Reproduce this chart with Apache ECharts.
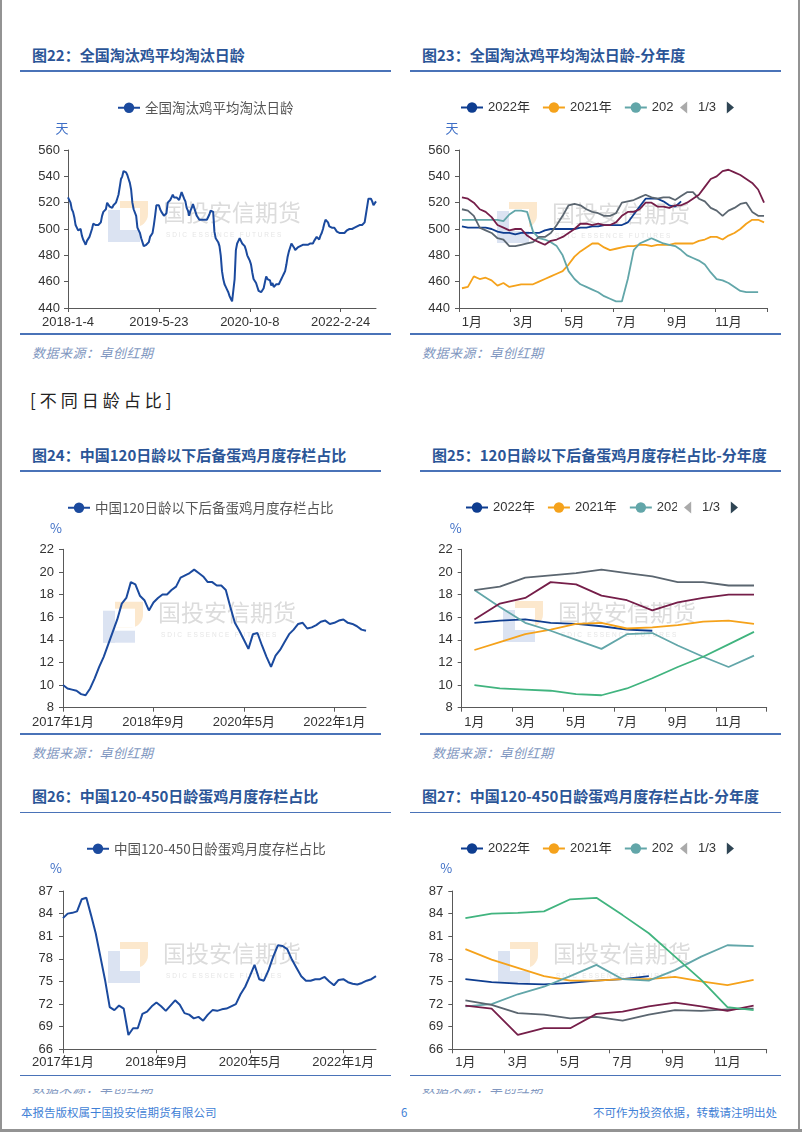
<!DOCTYPE html>
<html>
<head>
<meta charset="utf-8">
<script src="https://cdn.jsdelivr.net/npm/echarts@6/dist/echarts.min.js"></script>
<style>
html,body{margin:0;padding:0;background:#fff;}
body{width:802px;height:1133px;position:relative;overflow:hidden;font-family:"Noto Sans CJK SC",sans-serif;}
.t{position:absolute;font-weight:bold;font-size:15px;line-height:20px;color:#2b5597;white-space:nowrap;}
.ln{position:absolute;height:1.5px;background:#4a73b8;}
.src{position:absolute;font-style:italic;font-size:13px;line-height:18px;color:#8197c0;white-space:nowrap;letter-spacing:0.5px;}
.ch{position:absolute;}
.ft{position:absolute;font-size:11.5px;line-height:16px;color:#3f7fd6;white-space:nowrap;}
.bd{position:absolute;background:#939393;}
</style>
</head>
<body>
<div class="bd" style="left:0;top:0;width:2px;height:1131px"></div>
<div class="bd" style="left:798px;top:0;width:1.5px;height:1131px"></div>
<div class="bd" style="left:0;top:1129px;width:802px;height:3px"></div>

<div class="t" style="left:32px;top:45px">图22：全国淘汰鸡平均淘汰日龄</div>
<div class="t" style="left:422px;top:45px">图23：全国淘汰鸡平均淘汰日龄-分年度</div>
<div class="ln" style="left:20px;top:70px;width:371px"></div>
<div class="ln" style="left:410px;top:70px;width:371px"></div>
<div class="ln" style="left:20px;top:333px;width:371px"></div>
<div class="ln" style="left:410px;top:333px;width:371px"></div>
<div class="src" style="left:32px;top:344px">数据来源：卓创红期</div>
<div class="src" style="left:422px;top:344px">数据来源：卓创红期</div>

<div style="position:absolute;left:30px;top:388px;font-size:17px;line-height:24px;color:#222;letter-spacing:4px;white-space:nowrap">[不同日龄占比]</div>

<div class="t" style="left:32px;top:445px">图24：中国120日龄以下后备蛋鸡月度存栏占比</div>
<div class="t" style="left:432px;top:445px">图25：120日龄以下后备蛋鸡月度存栏占比-分年度</div>
<div class="ln" style="left:20px;top:470px;width:361px"></div>
<div class="ln" style="left:420px;top:470px;width:361px"></div>
<div class="ln" style="left:20px;top:733px;width:361px"></div>
<div class="ln" style="left:420px;top:733px;width:361px"></div>
<div class="src" style="left:32px;top:744px">数据来源：卓创红期</div>
<div class="src" style="left:432px;top:744px">数据来源：卓创红期</div>

<div class="t" style="left:32px;top:786px">图26：中国120-450日龄蛋鸡月度存栏占比</div>
<div class="t" style="left:422px;top:786px">图27：中国120-450日龄蛋鸡月度存栏占比-分年度</div>
<div class="ln" style="left:20px;top:811.5px;width:371px"></div>
<div class="ln" style="left:410px;top:811.5px;width:371px"></div>
<div class="ln" style="left:20px;top:1074.5px;width:371px"></div>
<div class="ln" style="left:410px;top:1074.5px;width:371px"></div>
<div style="position:absolute;left:32px;top:1089px;width:150px;height:5px;overflow:hidden"><div class="src" style="left:0;top:-10px">数据来源：卓创红期</div></div>
<div style="position:absolute;left:422px;top:1089px;width:150px;height:5px;overflow:hidden"><div class="src" style="left:0;top:-10px">数据来源：卓创红期</div></div>

<div class="ft" style="left:21px;top:1104px">本报告版权属于国投安信期货有限公司</div>
<div class="ft" style="left:401px;top:1104px">6</div>
<div class="ft" style="right:25px;top:1104px">不可作为投资依据，转载请注明出处</div>

<div id="c22" class="ch" style="left:0;top:90px;width:400px;height:250px"></div>
<div id="c23" class="ch" style="left:400px;top:90px;width:402px;height:250px"></div>
<div id="c24" class="ch" style="left:0;top:490px;width:400px;height:250px"></div>
<div id="c25" class="ch" style="left:400px;top:490px;width:402px;height:250px"></div>
<div id="c26" class="ch" style="left:0;top:830px;width:400px;height:250px"></div>
<div id="c27" class="ch" style="left:400px;top:830px;width:402px;height:250px"></div>

<script>
// ---------------- data ----------------
// weekly average culling age of laying hens (days), by year
const cullAge2018 = [524,523,520,515,513,509,503,501,499,500,500,495,492,490,488,491,492,494,497,500,504,504,503,504,503,503,505,510,513,513,515,520,520,517,517,516,518,518,520,523,526,532,538,540,544,545,543,541,538,535,530,520];
const cullAge2019 = [515,514,510,501,499,497,493,492,487,487,488,489,490,494,494,497,503,510,518,519,518,515,513,512,510,510,512,520,521,522,524,526,524,523,524,524,522,525,528,528,523,521,516,514,510,514,516,519,520,513,510,510];
const cullAge2020 = [507,507,507,507,507,507,507,506,511,514,514,513,498,493,492,490,487,480,468,462,458,456,454,452,449,447,445,445,462,484,489,491,493,491,489,488,487,484,480,478,476,473,467,462,461,459,456,453,452,452,452];
const cullAge2021 = [455,456,464,462,463,461,457,459,456,457,458,458,458,460,462,464,466,468,473,479,483,486,489,489,486,484,485,486,487,487,488,488,487,488,488,488,489,489,489,489,491,492,494,494,492,495,497,500,504,507,507,505];
const cullAge2022 = [502,501,501,501,501,500,498,497,497,496,497,497,497,497,499,500,500,500,500,500,501,501,502,502,503,503,503,503,505,511,517,523,523,523,521,518,517,521];

// monthly share of hens under 120 days (%)
const under120_2017 = [10.0,9.7,9.6,9.5,9.2,9.1,9.7,10.6,11.6,12.5,13.6,14.7];
const under120_2018 = [15.8,17.2,17.7,19.1,18.9,17.9,17.5,16.6,17.3,17.7,18.0,18.0];
const under120_2019 = [18.4,18.7,19.5,19.7,19.9,20.2,19.9,19.6,19.1,19.1,18.8,18.8];
const under120_2020 = [18.4,16.9,15.5,14.8,14.0,13.2,14.5,14.6,13.5,12.5,11.6,12.6];
const under120_2021 = [13.1,13.8,14.5,14.9,15.4,15.5,15.0,15.1,15.3,15.6,15.7,15.4];
const under120_2022 = [15.5,15.7,15.8,15.5,15.4,15.2,14.9,14.8];

// monthly share of hens aged 120-450 days (%)
const age450_2017 = [83.4,84.0,84.1,84.3,85.9,86.1,83.8,81.4,78.3,75.2,71.6,71.2];
const age450_2018 = [71.8,71.4,67.9,68.8,68.8,70.7,71.0,71.7,72.2,71.7,71.1,71.8];
const age450_2019 = [72.5,71.9,70.8,70.6,70.1,70.3,69.8,70.6,71.2,71.1,71.3,71.4];
const age450_2020 = [71.7,72.0,73.3,74.3,75.7,77.2,75.3,75.1,76.5,78.3,79.8,79.7];
const age450_2021 = [79.3,77.9,76.8,75.7,75.1,75.1,75.3,75.3,75.6,75.0,74.5,75.2];
const age450_2022 = [75.3,74.9,74.7,74.6,74.8,75.1,75.3,75.7];

const monthLabels = ['1月','2月','3月','4月','5月','6月','7月','8月','9月','10月','11月','12月'];
const yearNames = ['2022年','2021年','2020年','2019年','2018年','2017年'];
const yearColors = ['#0e3d90','#f5a21b','#62a6a9','#5b6670','#751e49','#41b47f'];

// ---------------- derived ----------------
const cullAgeAll = [].concat(cullAge2018, cullAge2019, cullAge2020, cullAge2021, cullAge2022);
const weekDates = cullAgeAll.map(function(_, i){
  const d = new Date(Date.UTC(2018, 0, 4 + 7 * i));
  return d.getUTCFullYear() + '-' + (d.getUTCMonth() + 1) + '-' + d.getUTCDate();
});
const weekCats = []; for (let i = 1; i <= 52; i++) weekCats.push('W' + i);
const under120All = [].concat(under120_2017, under120_2018, under120_2019, under120_2020, under120_2021, under120_2022);
const age450All = [].concat(age450_2017, age450_2018, age450_2019, age450_2020, age450_2021, age450_2022);
const monthCatsAll = under120All.map(function(_, i){
  return (2017 + Math.floor(i / 12)) + '年' + (i % 12 + 1) + '月';
});

// ---------------- style helpers ----------------
const SANS = '"Liberation Sans", Arial, "Noto Sans CJK SC", sans-serif';
const CJK = '"Noto Sans CJK SC", sans-serif';
const AX = '#595959';
const LINE_BLUE = '#1b4a9e';

function watermark(tx, ty){
  return [
    {type:'rect', silent:true, z:-20, shape:{x:tx-43, y:ty-11, width:28, height:26, r:[0,0,13,0]}, style:{fill:'#fce8cd'}},
    {type:'rect', silent:true, z:-19, shape:{x:tx-43, y:ty-4, width:20, height:19}, style:{fill:'#ffffff'}},
    {type:'rect', silent:true, z:-18, shape:{x:tx-55, y:ty-2, width:12, height:32}, style:{fill:'#dbe3f2'}},
    {type:'rect', silent:true, z:-18, shape:{x:tx-55, y:ty+18, width:32, height:12}, style:{fill:'#dbe3f2'}},
    {type:'text', silent:true, z:-17, x:tx, y:ty, style:{text:'国投安信期货', fontSize:23, fontFamily:CJK, fill:'#dcdcdc', verticalAlign:'middle'}},
    {type:'text', silent:true, z:-17, x:tx+3, y:ty+23, style:{text:'S D I C   E S S E N C E   F U T U R E S', fontSize:6.5, fontFamily:SANS, fill:'#e6e6e6', verticalAlign:'middle'}}
  ];
}

function yAxisOf(min, max, interval, name, nameGap, shift, margin){
  return {
    type:'value', min:min, max:max, interval:interval,
    name:name, nameLocation:'end', nameGap:nameGap,
    nameTextStyle:{color:'#3d6ec6', fontSize:13, fontFamily:CJK, align:'center', padding:[0, shift*2, 0, 0]},
    axisLine:{show:true, lineStyle:{color:AX, width:1}},
    axisTick:{show:true, length:4, lineStyle:{color:AX}},
    axisLabel:{color:'#333', fontSize:13, fontFamily:SANS, margin:margin},
    splitLine:{show:false}
  };
}

function legendSingle(left, top){
  return {
    left:left, top:top, padding:0, itemWidth:22, itemHeight:13, itemGap:12,
    textStyle:{fontSize:13.5, fontFamily:CJK, color:'#555'}
  };
}
function legendScroll(left, top, width){
  return {
    type:'scroll', left:left, top:top, width:width, padding:0,
    itemWidth:22, itemHeight:13, itemGap:12,
    textStyle:{fontSize:13, fontFamily:SANS, color:'#333'},
    pageIconSize:12, pageButtonItemGap:5, pageButtonGap:7,
    pageIconColor:'#2f4554', pageIconInactiveColor:'#aaaaaa',
    pageTextStyle:{fontSize:13, color:'#333', fontFamily:SANS},
    data:yearNames
  };
}

function singleLine(name, data, width){
  return {type:'line', name:name, data:data, symbol:'circle', showSymbol:false,
    lineStyle:{width:width||2, color:LINE_BLUE}, itemStyle:{color:LINE_BLUE}, z:3};
}
function yearLine(idx, data, xAxisIndex){
  return {type:'line', name:yearNames[idx], data:data, symbol:'circle', showSymbol:false,
    xAxisIndex:xAxisIndex||0,
    lineStyle:{width:1.8, color:yearColors[idx]}, itemStyle:{color:yearColors[idx]}, z:3};
}
function monthAxis(margin){
  return {type:'category', data:monthLabels, boundaryGap:true,
    axisLine:{show:true, lineStyle:{color:AX}},
    axisTick:{show:true, interval:1, length:4, lineStyle:{color:AX}},
    axisLabel:{interval:1, color:'#333', fontSize:13, fontFamily:SANS, margin:margin}};
}
function longAxis(cats, interval, margin){
  return {type:'category', data:cats, boundaryGap:false,
    axisLine:{show:true, lineStyle:{color:AX}},
    axisTick:{show:true, interval:interval, length:4, lineStyle:{color:AX}},
    axisLabel:{interval:interval, color:'#333', fontSize:13, fontFamily:SANS, margin:margin}};
}

function init(id){ return echarts.init(document.getElementById(id), null, {renderer:'canvas'}); }

// ---------------- chart 22 ----------------
init('c22').setOption({
  animation:false,
  legend:Object.assign(legendSingle(117, 11), {data:['全国淘汰鸡平均淘汰日龄']}),
  grid:{left:68, right:24, top:60, bottom:32},
  graphic:watermark(163, 122),
  xAxis:longAxis(weekDates, 71, 8),
  yAxis:yAxisOf(440, 560, 20, '天', 15, 6, 8),
  series:[singleLine('全国淘汰鸡平均淘汰日龄', cullAgeAll, 2)]
});

// ---------------- chart 23 ----------------
init('c23').setOption({
  animation:false,
  legend:legendScroll(60, 11, 274),
  grid:{left:59, right:35, top:60, bottom:32},
  graphic:watermark(152, 123),
  xAxis:[monthAxis(8), {type:'category', data:weekCats, boundaryGap:true, show:false}],
  yAxis:yAxisOf(440, 560, 20, '天', 15, 7, 9),
  series:[
    yearLine(0, cullAge2022, 1),
    yearLine(1, cullAge2021, 1),
    yearLine(2, cullAge2020, 1),
    yearLine(3, cullAge2019, 1),
    yearLine(4, cullAge2018, 1)
  ]
});

// ---------------- chart 24 ----------------
init('c24').setOption({
  animation:false,
  legend:Object.assign(legendSingle(67, 11), {data:['中国120日龄以下后备蛋鸡月度存栏占比']}),
  grid:{left:63, right:34, top:59.3, bottom:32.3},
  graphic:watermark(158, 122.7),
  xAxis:longAxis(monthCatsAll, 19, 8),
  yAxis:yAxisOf(8, 22, 2, '%', 14.5, 7, 9),
  series:[singleLine('中国120日龄以下后备蛋鸡月度存栏占比', under120All, 2)]
});

// ---------------- chart 25 ----------------
init('c25').setOption({
  animation:false,
  legend:legendScroll(65, 11, 273),
  grid:{left:61.7, right:35.3, top:59.3, bottom:32.3},
  graphic:watermark(158, 122),
  xAxis:monthAxis(8),
  yAxis:yAxisOf(8, 22, 2, '%', 14.5, 6, 9),
  series:[
    yearLine(0, under120_2022), yearLine(1, under120_2021), yearLine(2, under120_2020),
    yearLine(3, under120_2019), yearLine(4, under120_2018), yearLine(5, under120_2017)
  ]
});

// ---------------- chart 26 ----------------
init('c26').setOption({
  animation:false,
  legend:Object.assign(legendSingle(86, 12), {data:['中国120-450日龄蛋鸡月度存栏占比']}),
  grid:{left:63, right:24, top:61, bottom:30.7},
  graphic:watermark(163, 123),
  xAxis:longAxis(monthCatsAll, 19, 7),
  yAxis:yAxisOf(66, 87, 3, '%', 16, 7, 10),
  series:[singleLine('中国120-450日龄蛋鸡月度存栏占比', age450All, 2)]
});

// ---------------- chart 27 ----------------
init('c27').setOption({
  animation:false,
  legend:legendScroll(60, 12, 274),
  grid:{left:52.3, right:35.3, top:61, bottom:30.7},
  graphic:watermark(153, 123),
  xAxis:monthAxis(7),
  yAxis:yAxisOf(66, 87, 3, '%', 16, 6, 9),
  series:[
    yearLine(0, age450_2022), yearLine(1, age450_2021), yearLine(2, age450_2020),
    yearLine(3, age450_2019), yearLine(4, age450_2018), yearLine(5, age450_2017)
  ]
});
</script>
</body>
</html>
